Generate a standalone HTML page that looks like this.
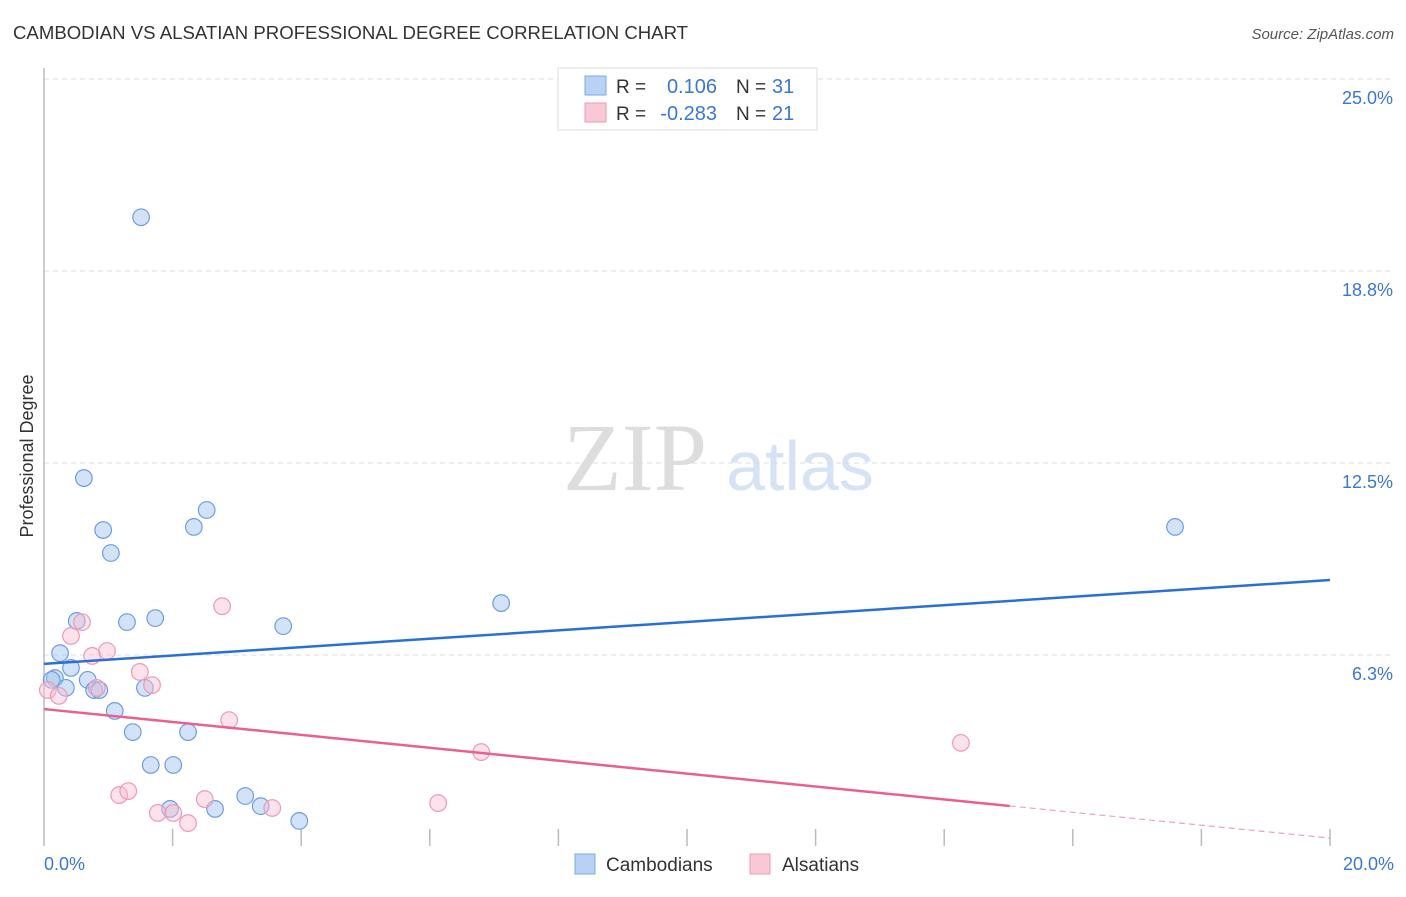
<!DOCTYPE html>
<html><head><meta charset="utf-8"><style>
body{margin:0;background:#fff;font-family:"Liberation Sans",sans-serif}
svg text{font-family:"Liberation Sans",sans-serif}
</style></head><body>
<svg width="1406" height="892">
<text x="13" y="39" font-size="18.6" fill="#333">CAMBODIAN VS ALSATIAN PROFESSIONAL DEGREE CORRELATION CHART</text>
<text x="1394" y="39" font-size="15" fill="#555" font-style="italic" text-anchor="end">Source: ZipAtlas.com</text>
<text x="33" y="456" font-size="18" fill="#333" transform="rotate(-90 33 456)" text-anchor="middle">Professional Degree</text>
<g><text x="635" y="490" font-size="96" style="font-family:'Liberation Serif',serif" fill="#ddd" text-anchor="middle">ZIP</text><text x="800" y="490" font-size="70" fill="#d5e3f5" text-anchor="middle">atlas</text></g>
<g id="grid"></g><g id="ticks"></g>
<line x1="44" y1="68" x2="44" y2="846" stroke="#bbb" stroke-width="1.5"/>
<g id="pts"></g><g id="lines"></g>
<text x="44" y="870" font-size="18" fill="#3a78d0">0.0%</text>
<text x="1394" y="870" font-size="18" fill="#3a78d0" text-anchor="end">20.0%</text>
<g>
<rect x="558" y="68" width="259" height="62" fill="#fff" stroke="#ddd"/>
<rect x="585" y="76" width="21" height="19" fill="#b8d2f4" stroke="#7fa8e0"/>
<rect x="585" y="103" width="21" height="19" fill="#f9c8d6" stroke="#eb9ab2"/>
<text x="616" y="93" font-size="19" fill="#333">R =</text><text x="717" y="93" font-size="20" fill="#3a78d0" text-anchor="end">0.106</text>
<text x="736" y="93" font-size="19" fill="#333">N =</text><text x="772" y="93" font-size="20" fill="#3a78d0">31</text>
<text x="616" y="120" font-size="19" fill="#333">R =</text><text x="717" y="120" font-size="20" fill="#3a78d0" text-anchor="end">-0.283</text>
<text x="736" y="120" font-size="19" fill="#333">N =</text><text x="772" y="120" font-size="20" fill="#3a78d0">21</text>
</g>
<g>
<rect x="575" y="854" width="20" height="20" fill="#b8d2f4" stroke="#7fa8e0"/>
<text x="606" y="871" font-size="19" fill="#333">Cambodians</text>
<rect x="750" y="854" width="20" height="20" fill="#f9c8d6" stroke="#eb9ab2"/>
<text x="782" y="871" font-size="19" fill="#333">Alsatians</text>
</g>
</svg>
<script>
const yTicks=[6.25,12.5,18.75,25];
const yTickLabels=["6.3%","12.5%","18.8%","25.0%"];
const xTicks=[2,4,6,8,10,12,14,16,18,20];
const blueX=[1.51,0.62,0.92,1.04,2.53,2.33,17.59,7.11,0.51,1.29,1.73,3.72,0.25,0.42,0.17,0.12,0.34,0.68,0.78,0.86,1.57,1.10,1.38,2.24,1.66,2.01,1.96,2.66,3.13,3.37,3.97];
const blueY=[20.5,12.01,10.32,9.57,10.97,10.42,10.42,7.94,7.36,7.32,7.45,7.19,6.31,5.83,5.50,5.44,5.18,5.44,5.11,5.11,5.18,4.43,3.74,3.74,2.67,2.67,1.24,1.24,1.66,1.33,0.85];
const pinkX=[2.77,0.59,0.42,0.75,0.98,1.49,1.68,0.82,0.06,0.23,2.88,6.80,14.26,1.17,1.31,2.50,1.77,2.01,2.24,3.55,6.13];
const pinkY=[7.84,7.32,6.87,6.22,6.38,5.70,5.27,5.18,5.11,4.92,4.13,3.09,3.39,1.69,1.82,1.56,1.11,1.11,0.78,1.27,1.43];
const blueTrend=[5.96,8.69];
const pinkTrend=[4.49,0.29];
const pinkSolidEnd=15.02;
const NS="http://www.w3.org/2000/svg";
const xs=v=>44+v/20*1286, ys=v=>847-v/6.25*192;
function mk(p,t,a){const e=document.createElementNS(NS,t);for(const k in a)e.setAttribute(k,a[k]);document.getElementById(p).appendChild(e);return e;}
yTicks.forEach((t,i)=>{
 const l=mk('grid','line',{x1:44,x2:1394,y1:ys(t),y2:ys(t),stroke:'#ddd','stroke-dasharray':'5,4'});
 
 
 const tx=mk('grid','text',{x:1393,y:ys(t)+25,'font-size':18,fill:'#3a78d0','text-anchor':'end'});
 tx.textContent=yTickLabels[i];
 
 
});
xTicks.forEach(t=>{
 const l=mk('ticks','line',{x1:xs(t),x2:xs(t),y1:829,y2:846,stroke:'#bbb','stroke-width':1.5});
 
 
});
blueX.forEach((x,i)=>{
 const c=mk('pts','circle',{cx:xs(x),cy:ys(blueY[i]),r:8.3,fill:'rgba(165,198,240,0.5)',stroke:'#6d9de0','stroke-width':1.2});
 
 
});
pinkX.forEach((x,i)=>{
 const c=mk('pts','circle',{cx:xs(x),cy:ys(pinkY[i]),r:8.3,fill:'rgba(248,190,208,0.45)',stroke:'#ec9ab3','stroke-width':1.2});
 
 
});
const bl=mk('lines','line',{x1:xs(0),y1:ys(blueTrend[0]),x2:xs(20),y2:ys(blueTrend[1]),stroke:'#2a6fd6','stroke-width':2.5});


const py=x=>pinkTrend[0]+(pinkTrend[1]-pinkTrend[0])*x/20;
const pl=mk('lines','line',{x1:xs(0),y1:ys(pinkTrend[0]),x2:xs(pinkSolidEnd),y2:ys(py(pinkSolidEnd)),stroke:'#e8608e','stroke-width':2.5});


const pd=mk('lines','line',{x1:xs(pinkSolidEnd),y1:ys(py(pinkSolidEnd)),x2:xs(20),y2:ys(pinkTrend[1]),stroke:'#e8a0b8','stroke-width':1.2,'stroke-dasharray':'6,4'});


</script>
</body></html>
